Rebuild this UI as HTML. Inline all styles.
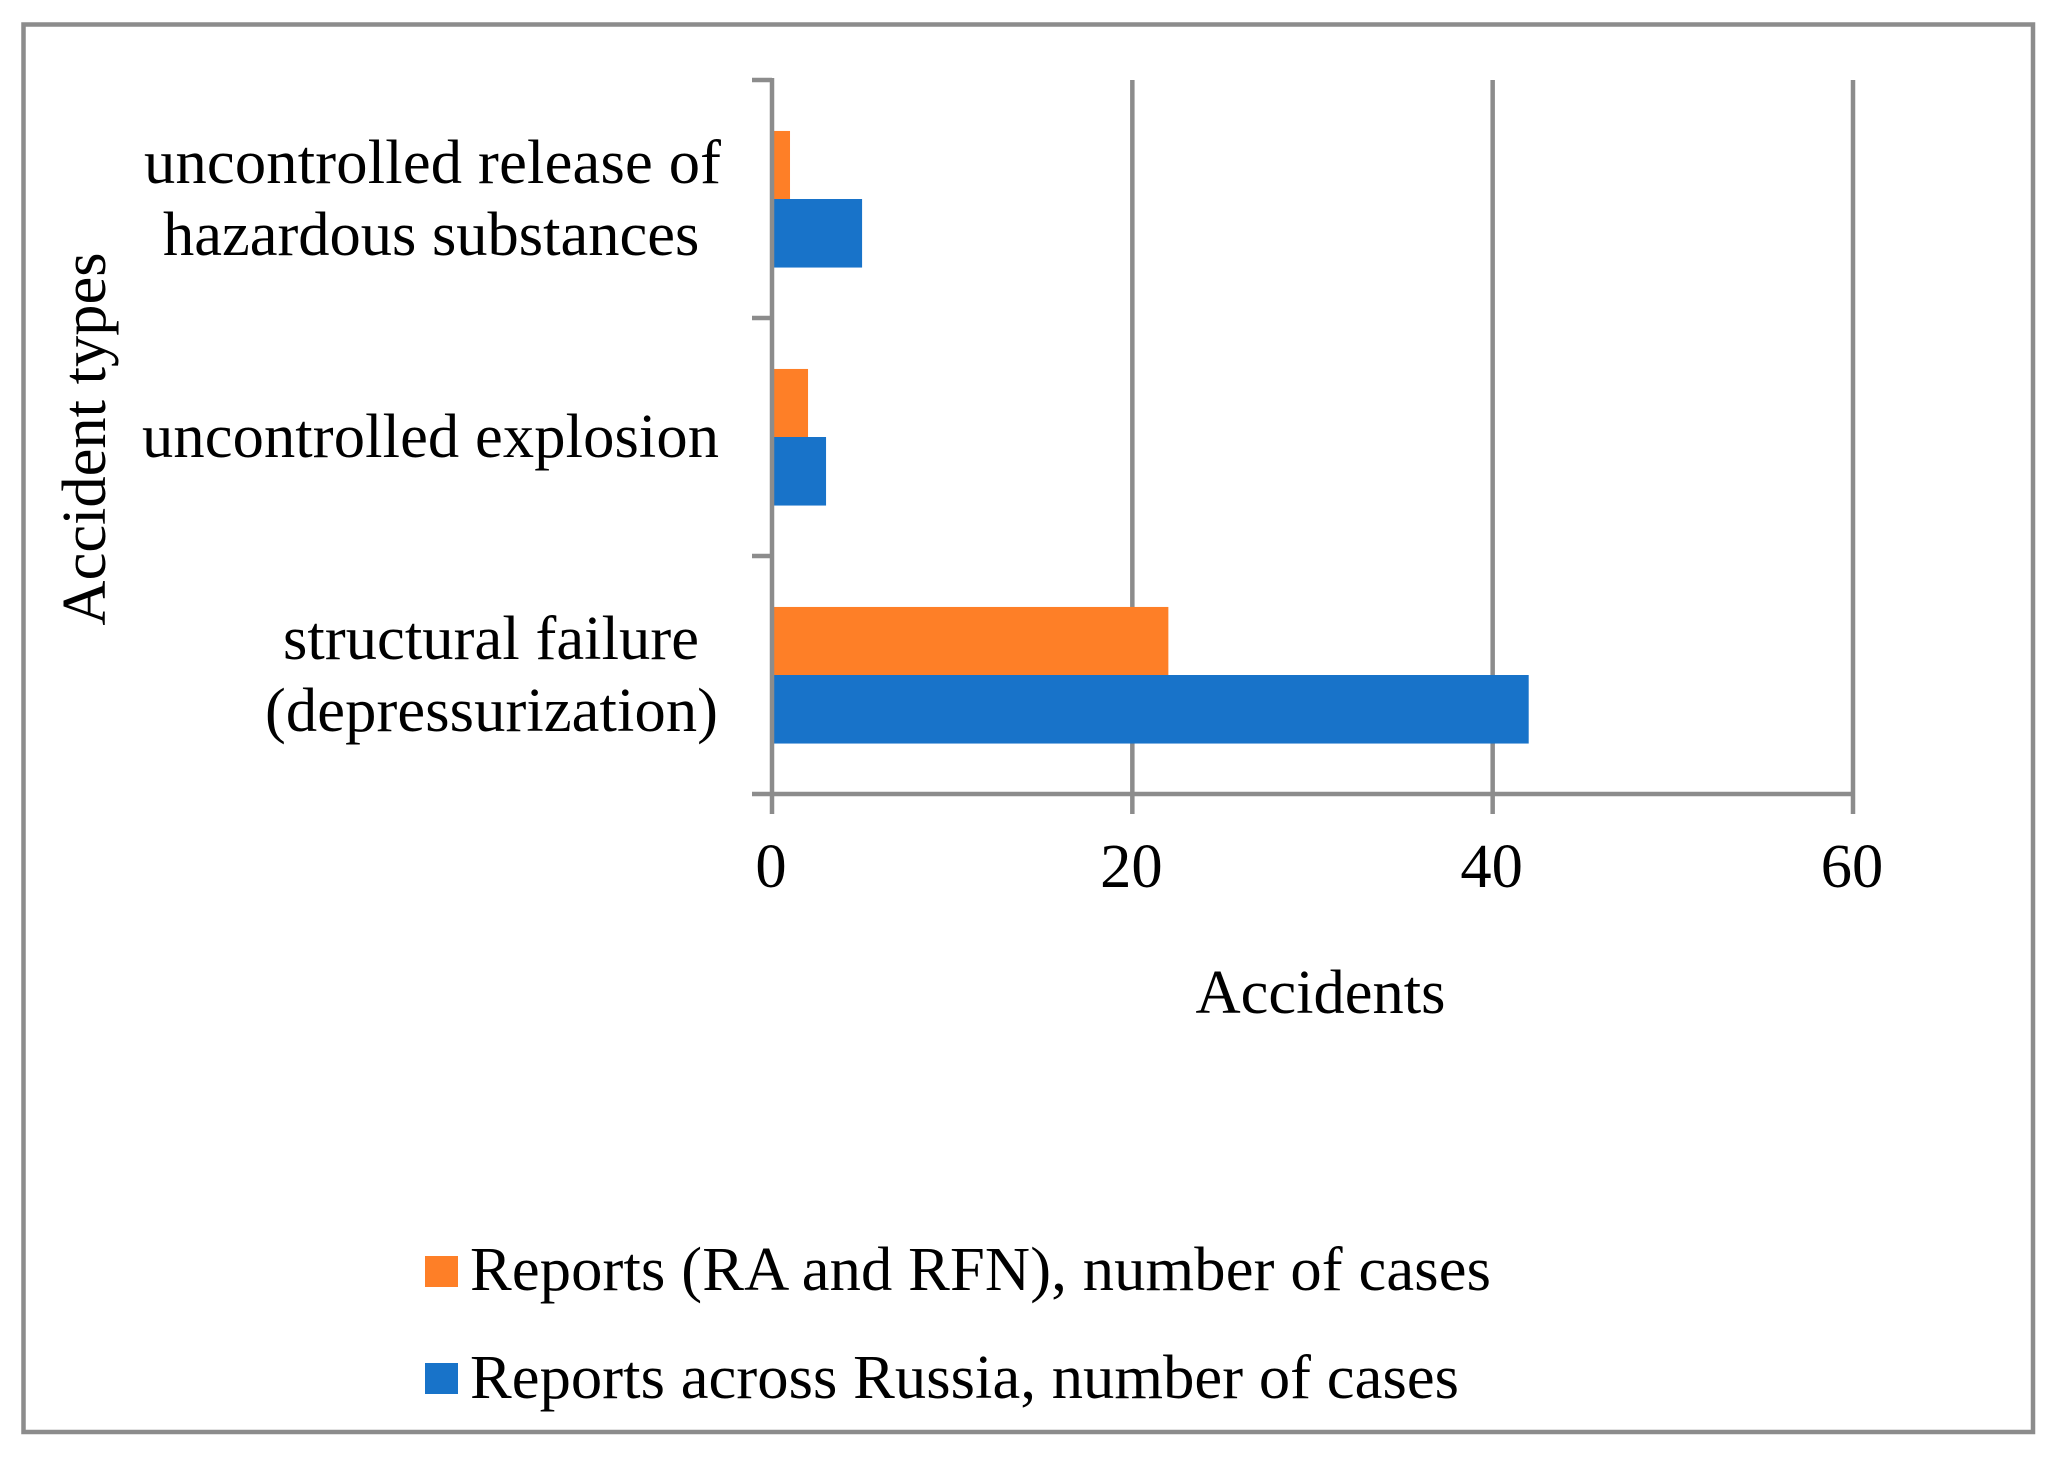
<!DOCTYPE html>
<html lang="en">
<head>
<meta charset="utf-8">
<title>Accident types chart</title>
<style>
html,body{margin:0;padding:0;background:#fff;}
svg{display:block;}
text{font-family:"Liberation Serif","DejaVu Serif",serif;font-size:62.5px;fill:#000;}
</style>
</head>
<body>
<svg id="chart" xmlns="http://www.w3.org/2000/svg" width="2059" height="1459" viewBox="0 0 2059 1459">
  <rect x="0" y="0" width="2059" height="1459" fill="#ffffff"/>
  <rect x="23.5" y="24.5" width="2009.5" height="1407.5" fill="none" stroke="#8c8c8c" stroke-width="4.5"/>
  <g id="grid"></g>
  <g id="bars"></g>
  <g id="axes"></g>
  <g id="xticks" text-anchor="middle"></g>

  <g>
    <text x="144" y="183" textLength="577" lengthAdjust="spacing">uncontrolled release of</text>
    <text x="163" y="255">hazardous substances</text>
    <text x="142" y="457" textLength="577" lengthAdjust="spacing">uncontrolled explosion</text>
    <text x="283" y="659" textLength="416" lengthAdjust="spacing">structural failure</text>
    <text x="265" y="731" textLength="453" lengthAdjust="spacing">(depressurization)</text>
  </g>

  <text text-anchor="middle" transform="translate(105,439) rotate(-90)">Accident types</text>
  <text text-anchor="middle" x="1320.5" y="1013">Accidents</text>

  <g>
    <rect x="425" y="1256" width="33" height="31" fill="#fe7f27"/>
    <text x="470" y="1290" textLength="1021" lengthAdjust="spacing">Reports (RA and RFN), number of cases</text>
    <rect x="425" y="1363" width="33" height="31" fill="#1873c9"/>
    <text x="470" y="1398" textLength="989" lengthAdjust="spacing">Reports across Russia, number of cases</text>
  </g>
</svg>
<script>
// Chart data (categories listed bottom to top)
const categories = ["structural failure (depressurization)", "uncontrolled explosion", "uncontrolled release of hazardous substances"];
const reportsRaRfn = [22, 2, 1];
const reportsRussia = [42, 3, 5];
const xTickValues = [0, 20, 40, 60];

const NS = "http://www.w3.org/2000/svg";
const plotLeft = 772, plotRight = 1853, plotTop = 80, plotBottom = 794;
const xMax = xTickValues[xTickValues.length - 1];
const bandH = (plotBottom - plotTop) / categories.length;
const barH = bandH * 0.288;
const axisColor = "#8c8c8c";

function xScale(v) { return plotLeft + v * (plotRight - plotLeft) / xMax; }
function yCenter(i) { return plotBottom - (i + 0.5) * bandH + 0.5; }
function yEdge(i) { return plotBottom - i * bandH; }

function makeLine(x1, y1, x2, y2) {
  const l = document.createElementNS(NS, "line");
  l.setAttribute("x1", x1);
  l.setAttribute("y1", y1);
  l.setAttribute("x2", x2);
  l.setAttribute("y2", y2);
  l.setAttribute("stroke", axisColor);
  l.setAttribute("stroke-width", 4.5);
  return l;
}
function makeBar(value, top, color) {
  const r = document.createElementNS(NS, "rect");
  const x0 = xScale(0) + 2;
  r.setAttribute("x", x0);
  r.setAttribute("y", top);
  r.setAttribute("width", Math.max(0, xScale(value) - x0));
  r.setAttribute("height", barH);
  r.setAttribute("fill", color);
  return r;
}

const grid = document.getElementById("grid");
const bars = document.getElementById("bars");
const axes = document.getElementById("axes");
const xticks = document.getElementById("xticks");

// Vertical gridlines (extending below the axis as ticks) and tick labels
xTickValues.forEach(function (v) {
  if (v !== 0) {
    const g = makeLine(xScale(v), plotTop, xScale(v), 814);
    
    
    grid.appendChild(g);
  }
  const t = document.createElementNS(NS, "text");
  t.setAttribute("x", xScale(v) - 1);
  t.setAttribute("y", 887);
  t.textContent = String(v);
  
  
  xticks.appendChild(t);
});

// Bars
categories.forEach(function (c, i) {
  const orange = makeBar(reportsRaRfn[i], yCenter(i) - barH, "#fe7f27");
  
  
  bars.appendChild(orange);
  const blue = makeBar(reportsRussia[i], yCenter(i) - 0.5, "#1873c9");
  
  
  bars.appendChild(blue);
});

// Axis lines and category ticks
const yAxis = makeLine(plotLeft, plotTop - 2, plotLeft, 814);


axes.appendChild(yAxis);

const xAxis = makeLine(752, plotBottom, plotRight, plotBottom);


axes.appendChild(xAxis);

for (let i = 1; i <= categories.length; i++) {
  const tick = makeLine(752, yEdge(i), plotLeft, yEdge(i));
  
  
  axes.appendChild(tick);
}
</script>
</body>
</html>
